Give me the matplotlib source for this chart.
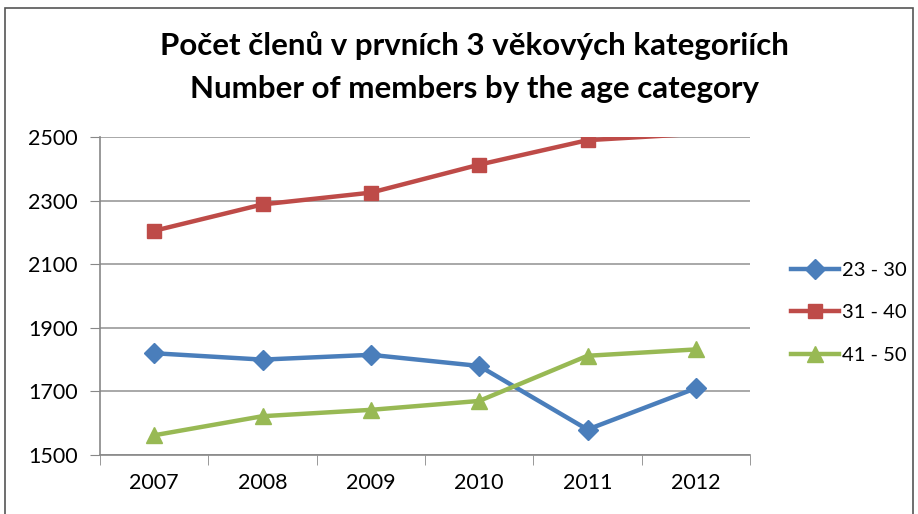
import matplotlib
matplotlib.use("Agg")
from matplotlib import pyplot as plt
from matplotlib.patches import Rectangle

years = ['2007', '2008', '2009', '2010', '2011', '2012']
series_labels = ['23 - 30', '31 - 40', '41 - 50']
age_23_30 = [1820, 1800, 1815, 1780, 1580, 1710]
age_31_40 = [2205, 2288, 2325, 2413, 2490, 2510]
age_41_50 = [1562, 1622, 1642, 1670, 1812, 1832]
y_ticks = [1500, 1700, 1900, 2100, 2300, 2500]

plt.rcParams['font.family'] = ['Lato', 'DejaVu Sans']

fig = plt.figure(figsize=(9.18, 5.14), dpi=100)
ax = fig.add_axes([100 / 918, 1 - 455 / 514, 650 / 918, 318 / 514])

# outer chart frame
fig.patches.append(Rectangle((5 / 918, -0.05), 908 / 918, 1.05 - 8 / 514,
                             transform=fig.transFigure, fill=False,
                             edgecolor='#555555', linewidth=1.2))

x = list(range(len(years)))
ymin, ymax = 1500, 2500
styles = [('#4A7EBB', 'D', 10), ('#BE4B48', 's', 10.5), ('#98B954', '^', 12)]
for vals, lab, (col, mk, ms) in zip([age_23_30, age_31_40, age_41_50], series_labels, styles):
    # like Excel: markers outside the plot area are not drawn
    shown = [i for i, v in enumerate(vals) if ymin <= v <= ymax]
    ax.plot(x, vals, color=col, linewidth=3.2, marker=mk, markersize=ms,
            markevery=shown, label=lab)

ax.set_xlim(-0.5, 5.5)
ax.set_ylim(ymin, ymax)
ax.set_yticks(y_ticks)
ax.set_xticks(x)
ax.set_xticklabels(years)
ax.set_xticks([i - 0.5 for i in range(len(years) + 1)], minor=True)
ax.tick_params(axis='x', which='major', length=0, pad=13, labelsize=15.5)
ax.tick_params(axis='x', which='minor', length=7, color='#888888', direction='out')
ax.tick_params(axis='y', length=7, color='#888888', labelsize=15.5, pad=9)
ax.grid(axis='y', color='#999999', linewidth=1.2)
ax.set_axisbelow(True)
for s in ['top', 'right']:
    ax.spines[s].set_visible(False)
for s in ['left', 'bottom']:
    ax.spines[s].set_color('#888888')
    ax.spines[s].set_linewidth(1.2)

fig.text(474 / 918, 1 - 46 / 514, "Počet členů v prvních 3 věkových kategoriích",
         ha='center', va='center', fontsize=22.5, fontweight='bold')
fig.text(474 / 918, 1 - 89 / 514, "Number of members by the age category",
         ha='center', va='center', fontsize=22.5, fontweight='bold')

ax.legend(loc='center left', bbox_to_anchor=(1.05, 0.447), frameon=False,
          borderaxespad=0, fontsize=14.5, handlelength=2.4,
          labelspacing=1.25, handletextpad=0.15)

fig.savefig('out.png', dpi=100)
